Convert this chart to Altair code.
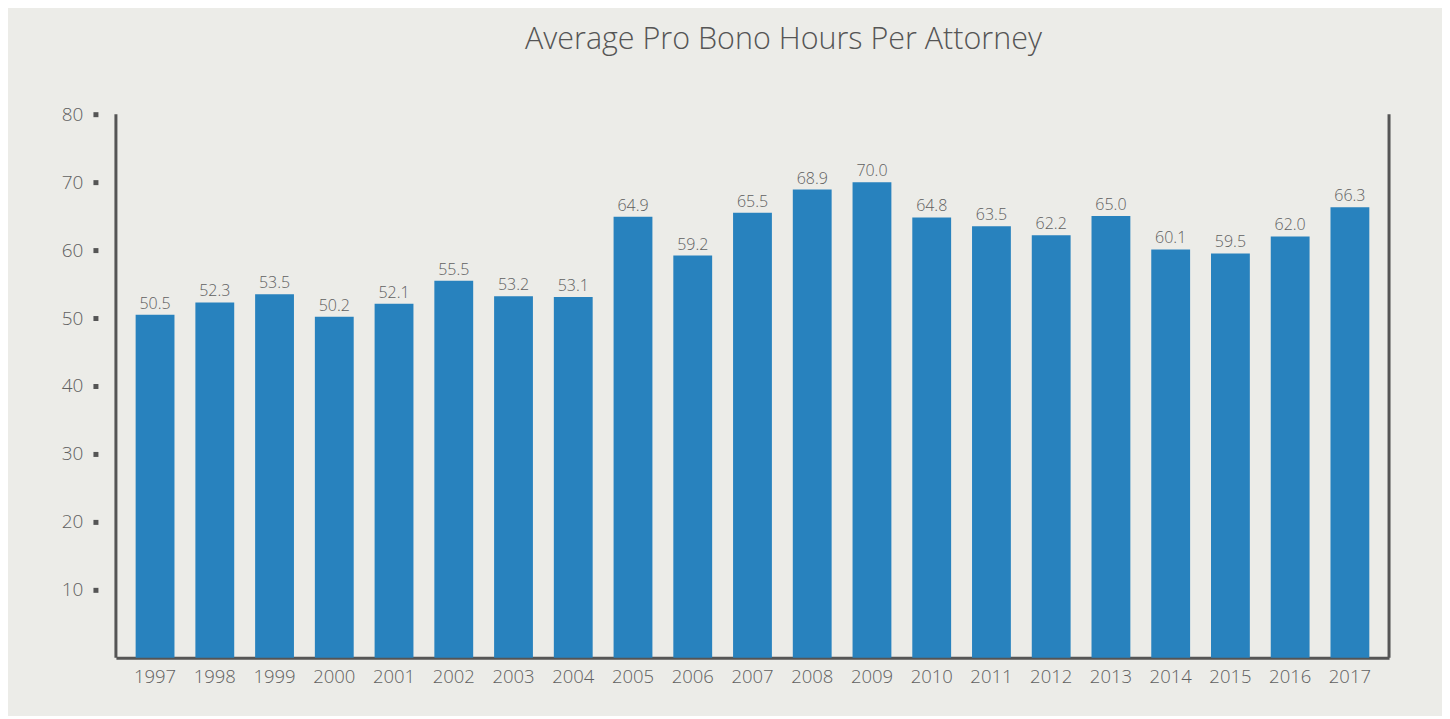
import altair as alt
import pandas as pd

years = [str(y) for y in range(1997, 2018)]
hours = [50.5, 52.3, 53.5, 50.2, 52.1, 55.5, 53.2, 53.1, 64.9, 59.2, 65.5,
         68.9, 70.0, 64.8, 63.5, 62.2, 65.0, 60.1, 59.5, 62.0, 66.3]
y_ticks = [10, 20, 30, 40, 50, 60, 70, 80]

df = pd.DataFrame({"year": years, "hours": hours})

W, H = 1274, 544
FONT = "Open Sans"
TXT = "#606060"

x = alt.X("year:N", title=None, sort=years,
          scale=alt.Scale(paddingInner=0.35, paddingOuter=0.33),
          axis=alt.Axis(labelAngle=0, ticks=False, domainColor="#555555",
                        domainWidth=3, labelFontSize=18.5, labelColor=TXT,
                        labelFont=FONT, labelFontWeight=300, labelPadding=10))
y = alt.Y("hours:Q", title=None,
          scale=alt.Scale(domain=[0, 80], nice=False, zero=True),
          axis=alt.Axis(values=y_ticks, grid=False, domain=False, offset=18,
                        tickSize=5, tickWidth=5, tickColor="#555555",
                        labelFontSize=19, labelColor=TXT, labelFont=FONT,
                        labelFontWeight=300, labelPadding=10))

bars = alt.Chart(df).mark_bar(color="#2882BE").encode(x=x, y=y)
labels = alt.Chart(df).mark_text(baseline="bottom", dy=-3, fontSize=16,
                                 fontWeight=300, color=TXT, font=FONT).encode(
    x=alt.X("year:N", sort=years), y="hours:Q",
    text=alt.Text("hours:Q", format=".1f"))

edge = pd.DataFrame({"k": [0]})
left = alt.Chart(edge).mark_rule(color="#555555", strokeWidth=3).encode(
    x=alt.value(0), y=alt.value(0), y2=alt.value(H))
right = alt.Chart(edge).mark_rule(color="#555555", strokeWidth=3).encode(
    x=alt.value(W), y=alt.value(0), y2=alt.value(H))

chart = alt.layer(bars, labels, left, right).properties(
    width=W, height=H,
    title=alt.Title("Average Pro Bono Hours Per Attorney", fontSize=30.5,
                    font=FONT, fontWeight=300, color="#555555", dx=31,
                    anchor="middle", offset=50),
    autosize=alt.AutoSizeParams(type="none"),
    padding={"left": 108, "top": 106, "right": 53, "bottom": 58},
).configure(background="#ECECE8").configure_view(stroke=None)

chart.save("out.html", embed_options={"renderer": "svg", "actions": False})
